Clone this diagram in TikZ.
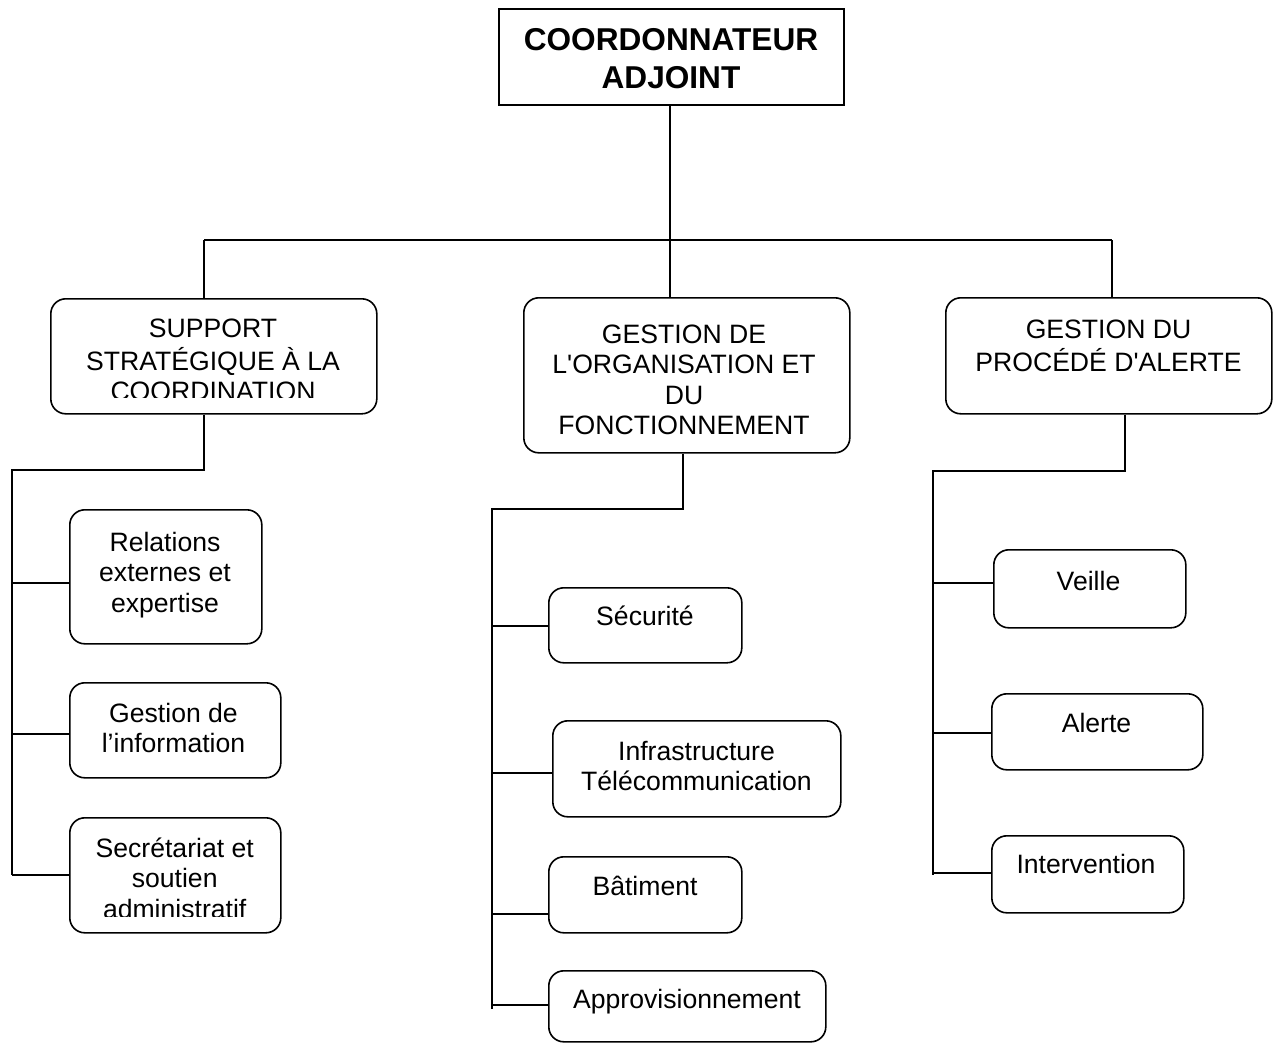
\documentclass[tikz,border=0pt]{standalone}
\usepackage{fontspec}
\setmainfont{Liberation Sans}
\newfontfamily\arialfam{Liberation Sans}
\newcommand\bodyfont{\arialfam\fontsize{26.6}{30.5}\selectfont}
\newcommand\headfont{\arialfam\bfseries\fontsize{31.6}{38}\selectfont}
\begin{document}
\begin{tikzpicture}[x=1pt,y=-1pt,line width=1.6pt,
  box/.style={draw,rounded corners=15pt,inner sep=0pt,anchor=north west},
  sqbox/.style={draw,inner sep=0pt,anchor=north west},
  txt/.style={anchor=north,inner sep=0pt,align=center,font=\bodyfont},
  headtxt/.style={anchor=north,inner sep=0pt,align=center,font=\headfont}]
\useasboundingbox (0,0) rectangle (1273,1042);
% boxes
\node[sqbox,minimum width=345pt,minimum height=96pt] (top) at (498,8) {};
\node[box,minimum width=326pt,minimum height=115pt] (sup) at (50,298) {};
\node[box,minimum width=326pt,minimum height=155pt] (gor) at (523,297) {};
\node[box,minimum width=326pt,minimum height=116pt] (pro) at (945,297) {};
\node[box,minimum width=192pt,minimum height=134pt] (rel) at (69,509) {};
\node[box,minimum width=211pt,minimum height=95pt] (gin) at (69,682) {};
\node[box,minimum width=211pt,minimum height=115pt] (sec) at (69,817) {};
\node[box,minimum width=193pt,minimum height=75pt] (secu) at (548,587) {};
\node[box,minimum width=288pt,minimum height=96pt] (inf) at (552,720) {};
\node[box,minimum width=193pt,minimum height=76pt] (bat) at (548,856) {};
\node[box,minimum width=277pt,minimum height=71pt] (app) at (548,970) {};
\node[box,minimum width=192pt,minimum height=78pt] (vei) at (993,549) {};
\node[box,minimum width=211pt,minimum height=76pt] (ale) at (991,693) {};
\node[box,minimum width=192pt,minimum height=77pt] (int) at (991,835) {};
% texts
\node[headtxt] (topt) at (671,22.7) {\strut COORDONNATEUR\\ADJOINT};
\begin{scope}
\clip (40,290) rectangle (390,397.5);
\node[txt] (supt) at (213,315) {\strut SUPPORT\\STRATÉGIQUE À LA\\COORDINATION};
\end{scope}
\node[txt] (gort) at (684,321.2) {\strut GESTION DE\\L'ORGANISATION ET\\DU\\FONCTIONNEMENT};
\node[txt] (prot) at (1108.5,316.5) {\strut GESTION DU\\PROCÉDÉ D'ALERTE};
\node[txt] (relt) at (165,529.2) {\strut Relations\\externes et\\expertise};
\node[txt] (gint) at (173.5,700.2) {\strut Gestion de\\l’information};
\begin{scope}
\clip (60,810) rectangle (290,916);
\node[txt] (sect) at (174.7,835.2) {\strut Secrétariat et\\soutien\\administratif};
\end{scope}
\node[txt] (secut) at (645,603.2) {\strut Sécurité};
\node[txt] (inft) at (696.5,738.2) {\strut Infrastructure\\Télécommunication};
\node[txt] (batt) at (645,873.2) {\strut Bâtiment};
\node[txt] (appt) at (687,986.2) {\strut Approvisionnement};
\node[txt] (veit) at (1088.5,568.2) {\strut Veille};
\node[txt] (alet) at (1096.5,710.2) {\strut Alerte};
\node[txt] (intt) at (1086,851.2) {\strut Intervention};
% bus
\coordinate (busL) at (204,240);
\coordinate (busM) at (670,240);
\coordinate (busR) at (1112,240);
\draw (busL) -- (busR);
\draw (busM |- top.south) -- (busM);
\draw (busL) -- (busL |- sup.north);
\draw (busM) -- (busM |- gor.north);
\draw (busR) -- (busR |- pro.north);
% left trunk
\coordinate (lk) at (204,470);
\coordinate (lt) at (12,470);
\coordinate (lb) at (12,875);
\draw (sup.south -| lk) -- (lk) -- (lt) -- (lb);
\coordinate (l1) at (12,583);
\coordinate (l2) at (12,734);
\coordinate (l3) at (12,875);
\draw (l1) -- (l1 -| rel.west);
\draw (l2) -- (l2 -| gin.west);
\draw (l3) -- (l3 -| sec.west);
% middle trunk
\coordinate (mk) at (683,509);
\coordinate (mt) at (492,509);
\coordinate (mb) at (492,1009);
\draw (gor.south -| mk) -- (mk) -- (mt) -- (mb);
\coordinate (m1) at (492,626);
\coordinate (m2) at (492,773);
\coordinate (m3) at (492,914);
\coordinate (m4) at (492,1005);
\draw (m1) -- (m1 -| secu.west);
\draw (m2) -- (m2 -| inf.west);
\draw (m3) -- (m3 -| bat.west);
\draw (m4) -- (m4 -| app.west);
% right trunk
\coordinate (rk) at (1125,471);
\coordinate (rt) at (933,471);
\coordinate (rb) at (933,875);
\draw (pro.south -| rk) -- (rk) -- (rt) -- (rb);
\coordinate (r1) at (933,583);
\coordinate (r2) at (933,733);
\coordinate (r3) at (933,873);
\draw (r1) -- (r1 -| vei.west);
\draw (r2) -- (r2 -| ale.west);
\draw (r3) -- (r3 -| int.west);
\end{tikzpicture}
\end{document}
